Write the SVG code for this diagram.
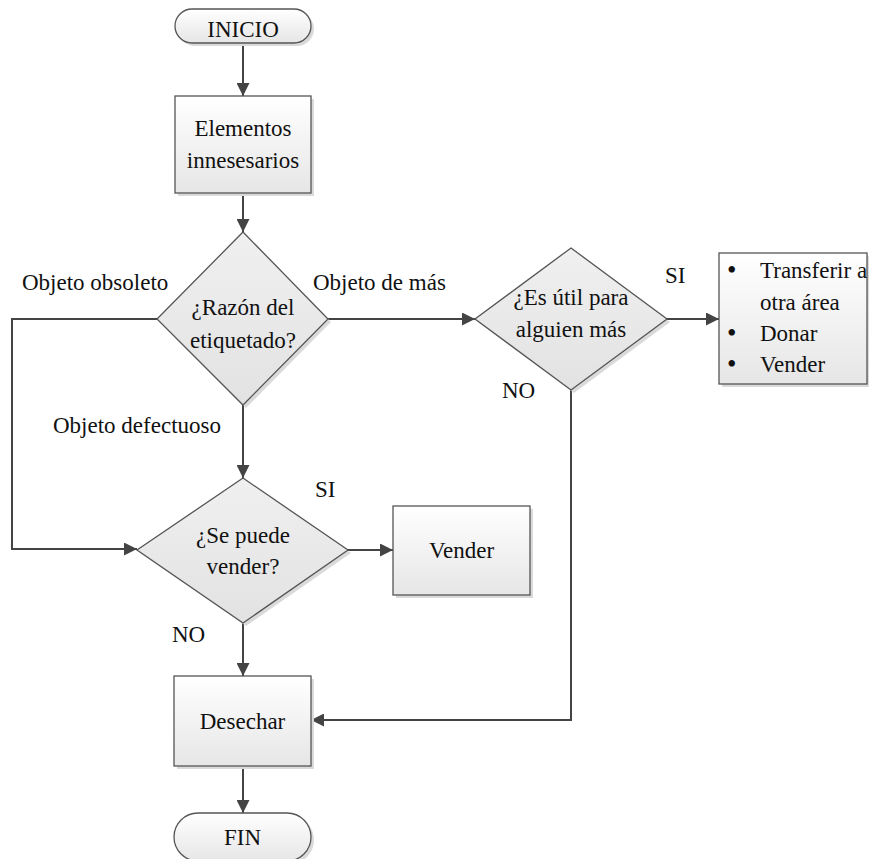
<svg xmlns="http://www.w3.org/2000/svg" width="869" height="859" viewBox="0 0 869 859">
<style>
  text { font-family: "Liberation Serif", "Times New Roman", serif; font-size: 23px; fill: #111; }
  .c { text-anchor: middle; }
  .b { font-size: 27px; }
  .shape { stroke: #555; stroke-width: 1.3; }
  .shadow { fill: #dadada; stroke: none; }
  .conn { fill: none; stroke: #444; stroke-width: 2; marker-end: url(#arrow); }
</style>
<defs>
  <linearGradient id="gBox" x1="0" y1="0" x2="0" y2="1">
    <stop offset="0" stop-color="#ffffff"/>
    <stop offset="1" stop-color="#e6e6e6"/>
  </linearGradient>
  <linearGradient id="gDia" x1="0" y1="0" x2="0" y2="1">
    <stop offset="0" stop-color="#f0f0f0"/>
    <stop offset="1" stop-color="#e2e2e2"/>
  </linearGradient>
  <marker id="arrow" markerUnits="userSpaceOnUse" markerWidth="13" markerHeight="13" refX="13" refY="6.5" orient="auto">
    <path d="M0,0 L13,6.5 L0,13 z" fill="#444"/>
  </marker>
</defs>

<g id="connectors">
  <line class="conn" x1="243" y1="43" x2="243" y2="96"/>
  <line class="conn" x1="243" y1="193" x2="243" y2="232"/>
  <line class="conn" x1="243" y1="405" x2="243" y2="478"/>
  <polyline class="conn" points="157,319 12,319 12,549 137,549"/>
  <line class="conn" x1="328" y1="319" x2="475" y2="319"/>
  <line class="conn" x1="667" y1="319" x2="719" y2="319"/>
  <polyline class="conn" points="571,390 571,720 311,720"/>
  <line class="conn" x1="348" y1="550" x2="393" y2="550"/>
  <line class="conn" x1="243" y1="623" x2="243" y2="676"/>
  <line class="conn" x1="243" y1="766" x2="243" y2="813"/>
</g>

<g id="inicio">
  <rect class="shadow" x="178" y="12" width="136" height="34" rx="17"/>
  <rect class="shape" x="175" y="9" width="136" height="34" rx="17" fill="url(#gBox)"/>
  <text class="c" x="243" y="37">INICIO</text>
</g>

<g id="elementos">
  <rect class="shadow" x="178" y="99" width="136" height="97"/>
  <rect class="shape" x="175" y="96" width="136" height="97" fill="url(#gBox)"/>
  <text class="c" x="243" y="136">Elementos</text>
  <text class="c" x="243" y="168">innesesarios</text>
</g>

<g id="razon">
  <polygon class="shadow" points="246,235 331,322 246,408 160,322"/>
  <polygon class="shape" points="243,232 328,319 243,405 157,319" fill="url(#gDia)"/>
  <text class="c" x="243" y="315">¿Razón del</text>
  <text class="c" x="243" y="348">etiquetado?</text>
</g>

<g id="util">
  <polygon class="shadow" points="574,251 670,322 574,393 478,322"/>
  <polygon class="shape" points="571,248 667,319 571,390 475,319" fill="url(#gDia)"/>
  <text class="c" x="571" y="305">¿Es útil para</text>
  <text class="c" x="571" y="337">alguien más</text>
</g>

<g id="opciones">
  <rect class="shadow" x="722" y="256" width="150" height="131"/>
  <rect class="shape" x="719" y="253" width="148" height="131" fill="url(#gBox)"/>
  <text class="b" x="727" y="279">•</text>
  <text x="760" y="278">Transferir a</text>
  <text x="760" y="310">otra área</text>
  <text class="b" x="727" y="342">•</text>
  <text x="760" y="341">Donar</text>
  <text class="b" x="727" y="373">•</text>
  <text x="760" y="372">Vender</text>
</g>

<g id="sepuede">
  <polygon class="shadow" points="246,481 351,553 246,626 140,553"/>
  <polygon class="shape" points="243,478 348,550 243,623 137,550" fill="url(#gDia)"/>
  <text class="c" x="243" y="543">¿Se puede</text>
  <text class="c" x="243" y="574">vender?</text>
</g>

<g id="vender">
  <rect class="shadow" x="396" y="509" width="137" height="89"/>
  <rect class="shape" x="393" y="506" width="137" height="89" fill="url(#gBox)"/>
  <text class="c" x="461.5" y="558">Vender</text>
</g>

<g id="desechar">
  <rect class="shadow" x="177" y="679" width="137" height="90"/>
  <rect class="shape" x="174" y="676" width="137" height="90" fill="url(#gBox)"/>
  <text class="c" x="242.5" y="729">Desechar</text>
</g>

<g id="fin">
  <rect class="shadow" x="177" y="816" width="137" height="48" rx="24"/>
  <rect class="shape" x="174" y="813" width="137" height="48" rx="24" fill="url(#gBox)"/>
  <text class="c" x="242.5" y="845">FIN</text>
</g>

<g id="labels">
  <text x="22" y="290">Objeto obsoleto</text>
  <text x="313" y="290">Objeto de más</text>
  <text x="53" y="433">Objeto defectuoso</text>
  <text x="665" y="283">SI</text>
  <text x="502" y="398">NO</text>
  <text x="315" y="497">SI</text>
  <text x="172" y="642">NO</text>
</g>
</svg>
